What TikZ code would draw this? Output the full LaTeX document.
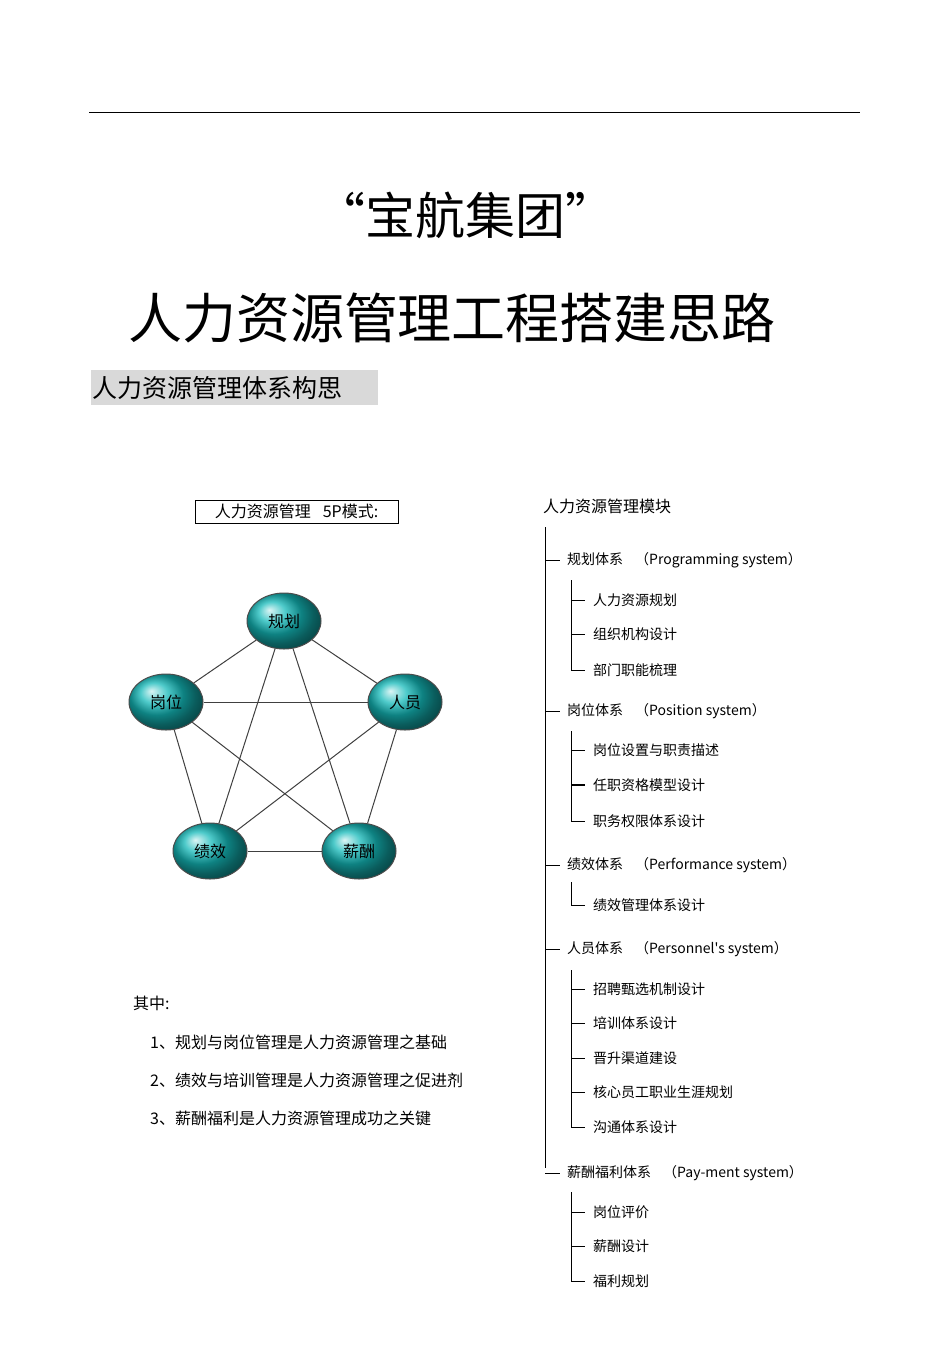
\documentclass[tikz,border=0pt]{standalone}
\usepackage{fontspec}
\setmainfont{Liberation Sans}
\newfontfamily\cjk{Noto Sans CJK SC}
\usetikzlibrary{shapes.geometric}
\definecolor{tealb}{RGB}{20,185,185}
\begin{document}
\begin{tikzpicture}[x=1pt,y=-1pt,
  el/.style={ellipse,draw=black!70,line width=1pt,ball color=tealb,minimum width=74pt,minimum height=56pt,font=\cjk\fontsize{16}{16}\selectfont,inner sep=0pt},
  tr/.style={anchor=west,font=\cjk\fontsize{14}{14}\selectfont,inner sep=0pt},
  lk/.style={draw=black!75,line width=1pt}]
\useasboundingbox (0,0) rectangle (950,1345);
\fill[white] (0,0) rectangle (950,1345);
\draw (89,112) -- (860,112);
\node[font=\cjk\fontsize{50}{50}\selectfont] (t1) at (465,215) {“宝航集团”};
\node[font=\cjk\fontsize{54}{54}\selectfont] (t2) at (452,318) {人力资源管理工程搭建思路};
\fill[black!15] (91,370) rectangle (378,405);
\node[anchor=west,font=\cjk\fontsize{25}{25}\selectfont,inner sep=0pt] (h) at (92,388) {人力资源管理体系构思};
\node[draw,minimum width=203pt,minimum height=23pt,inner sep=0pt,font=\cjk\fontsize{16}{16}\selectfont] (p5) at (296.5,511.5) {人力资源管理\hspace{12pt}5P模式:};
\node[el] (a) at (284,621) {规划};
\node[el] (b) at (166,702) {岗位};
\node[el] (c) at (405,702) {人员};
\node[el] (d) at (210,851) {绩效};
\node[el] (e) at (359,851) {薪酬};
\draw[lk] (a) -- (b); \draw[lk] (a) -- (c); \draw[lk] (a) -- (d); \draw[lk] (a) -- (e);
\draw[lk] (b) -- (c); \draw[lk] (b) -- (d); \draw[lk] (b) -- (e);
\draw[lk] (c) -- (d); \draw[lk] (c) -- (e); \draw[lk] (d) -- (e);
\node[anchor=west,font=\cjk\fontsize{16}{16}\selectfont,inner sep=0pt] (q0) at (133,1003) {其中:};
\node[anchor=west,font=\cjk\fontsize{16}{16}\selectfont,inner sep=0pt] (q1) at (150,1042) {1、规划与岗位管理是人力资源管理之基础};
\node[anchor=west,font=\cjk\fontsize{16}{16}\selectfont,inner sep=0pt] (q2) at (150,1080) {2、绩效与培训管理是人力资源管理之促进剂};
\node[anchor=west,font=\cjk\fontsize{16}{16}\selectfont,inner sep=0pt] (q3) at (150,1118) {3、薪酬福利是人力资源管理成功之关键};
\node[anchor=west,font=\cjk\fontsize{16}{16}\selectfont,inner sep=0pt] (m) at (543,506) {人力资源管理模块};
\coordinate (top) at (545,527);
\coordinate (bot) at (545,1168);
\draw (top) -- (bot);
\foreach \y/\lab in {560/{规划体系\hspace{12pt}（Programming system）},
  711/{岗位体系\hspace{12pt}（Position system）},
  865/{绩效体系\hspace{12pt}（Performance system）},
  949/{人员体系\hspace{12pt}（Personnel's system）},
  1173/{薪酬福利体系\hspace{12pt}（Pay-ment system）}}{
  \draw (545,\y) -- (560,\y);
  \node[tr] at (567,\y) {\lab};
}
\draw (571,580) -- (571,670) -- (585,670); \draw (571,600)--(585,600); \draw (571,634)--(585,634);
\node[tr] at (593,600) {人力资源规划}; \node[tr] at (593,634) {组织机构设计}; \node[tr] at (593,670) {部门职能梳理};
\draw (571,731) -- (571,821) -- (585,821); \draw (571,750)--(585,750); \draw[line width=1.2pt] (571,785)--(585,785);
\node[tr] at (593,750) {岗位设置与职责描述}; \node[tr] at (593,785) {任职资格模型设计}; \node[tr] at (593,821) {职务权限体系设计};
\draw (571,882) -- (571,905) -- (585,905);
\node[tr] at (593,905) {绩效管理体系设计};
\draw (571,970) -- (571,1127) -- (585,1127);
\foreach \yy in {989,1023,1058,1092} \draw (571,\yy)--(585,\yy);
\node[tr] at (593,989) {招聘甄选机制设计}; \node[tr] at (593,1023) {培训体系设计}; \node[tr] at (593,1058) {晋升渠道建设}; \node[tr] at (593,1092) {核心员工职业生涯规划}; \node[tr] at (593,1127) {沟通体系设计};
\draw (571,1192) -- (571,1281) -- (585,1281); \draw (571,1212)--(585,1212); \draw (571,1246)--(585,1246);
\node[tr] at (593,1212) {岗位评价}; \node[tr] at (593,1246) {薪酬设计}; \node[tr] at (593,1281) {福利规划};
\end{tikzpicture}
\end{document}
